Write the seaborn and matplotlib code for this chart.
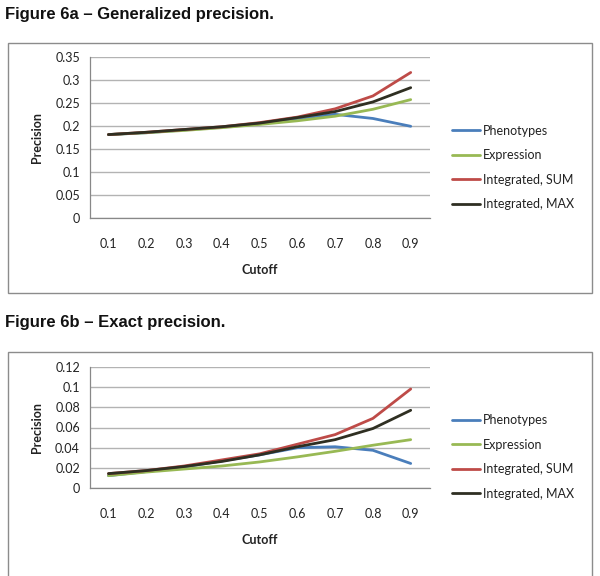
import numpy as np
import pandas as pd
import matplotlib
matplotlib.use("Agg")
import matplotlib.pyplot as plt
import seaborn as sns
from matplotlib.patches import Rectangle
from matplotlib.ticker import FixedLocator, NullFormatter

sns.set_style("white")
plt.rcParams['font.family'] = ['Lato', 'DejaVu Sans']

cutoffs = [0.1, 0.2, 0.3, 0.4, 0.5, 0.6, 0.7, 0.8, 0.9]
cutoff_labels = ["0.1", "0.2", "0.3", "0.4", "0.5", "0.6", "0.7", "0.8", "0.9"]
series_names = ["Phenotypes", "Expression", "Integrated, SUM", "Integrated, MAX"]

# Figure 6a - Generalized precision
gen_phenotypes = [0.182, 0.186, 0.192, 0.198, 0.206, 0.217, 0.226, 0.217, 0.200]
gen_expression = [0.182, 0.186, 0.191, 0.197, 0.204, 0.212, 0.222, 0.237, 0.258]
gen_sum = [0.182, 0.187, 0.193, 0.199, 0.208, 0.220, 0.238, 0.266, 0.317]
gen_max = [0.182, 0.187, 0.193, 0.199, 0.207, 0.219, 0.232, 0.253, 0.284]

# Figure 6b - Exact precision
ex_phenotypes = [0.0125, 0.0165, 0.021, 0.027, 0.033, 0.040, 0.041, 0.0375, 0.0245]
ex_expression = [0.0125, 0.016, 0.019, 0.022, 0.026, 0.031, 0.0365, 0.0425, 0.048]
ex_sum = [0.0145, 0.0175, 0.022, 0.028, 0.034, 0.0435, 0.053, 0.069, 0.098]
ex_max = [0.0145, 0.0175, 0.0215, 0.0265, 0.033, 0.041, 0.048, 0.059, 0.077]

colors = ["#4A7EBB", "#98B954", "#BE4B48", "#2F2F22"]
palette = dict(zip(series_names, colors))


def long_df(vals):
    rows = []
    for name, v in zip(series_names, vals):
        for c, y in zip(cutoffs, v):
            rows.append({"Cutoff": c, "Precision": y, "Series": name})
    return pd.DataFrame(rows)


fig = plt.figure(figsize=(6.0, 5.76), dpi=100)
W, H = 600.0, 576.0

# chart boxes
fig.patches.append(Rectangle((8 / W, 1 - 293 / H), 584 / W, 250 / H, transform=fig.transFigure,
                             fill=False, edgecolor="#8c8c8c", linewidth=1.0))
fig.patches.append(Rectangle((8 / W, 1 - 600 / H), 584 / W, 248 / H, transform=fig.transFigure,
                             fill=False, edgecolor="#8c8c8c", linewidth=1.0))

fig.text(5 / W, 1 - 14 / H, "Figure 6a \u2013 Generalized precision.", fontsize=12,
         fontweight="bold", family=["Liberation Sans", "DejaVu Sans"], va="center", ha="left",
         color="#111111")
fig.text(5 / W, 1 - 322 / H, "Figure 6b \u2013 Exact precision.", fontsize=12,
         fontweight="bold", family=["Liberation Sans", "DejaVu Sans"], va="center", ha="left",
         color="#111111")


def draw(ax, vals, ymax, ystep, yfmt, leg_y):
    df = long_df(vals)
    sns.lineplot(data=df, x="Cutoff", y="Precision", hue="Series", palette=palette,
                 hue_order=series_names, linewidth=2.0, ax=ax, legend=True)
    ax.set_xlim(0.05, 0.95)
    ax.set_ylim(0, ymax)
    yt = np.round(np.arange(0, ymax + ystep / 2, ystep), 4)
    ax.set_yticks(yt)
    ax.set_yticklabels([yfmt(v) for v in yt])
    ax.set_xticks(cutoffs)
    ax.set_xticklabels(cutoff_labels)
    ax.xaxis.set_minor_locator(FixedLocator(np.round(np.arange(0.05, 0.96, 0.1), 3)))
    ax.xaxis.set_minor_formatter(NullFormatter())
    ax.tick_params(axis="x", which="major", length=0, pad=14, labelsize=9, colors="#222222")
    ax.tick_params(axis="x", which="minor", length=4, width=0.8, color="#888888", direction="out")
    ax.tick_params(axis="y", which="major", length=4, width=0.8, color="#888888", direction="out",
                   labelsize=9, labelcolor="#222222", pad=3)
    ax.grid(axis="y", color="#b3b3b3", linewidth=1.0)
    ax.set_axisbelow(True)
    for s in ["top", "right"]:
        ax.spines[s].set_visible(False)
    for s in ["left", "bottom"]:
        ax.spines[s].set_color("#888888")
        ax.spines[s].set_linewidth(0.9)
    ax.set_xlabel("Cutoff", fontsize=9, fontweight="bold", color="#222222", labelpad=10)
    ax.set_ylabel("Precision", fontsize=9, fontweight="bold", color="#222222", labelpad=9)
    leg = ax.legend(loc="center left", bbox_to_anchor=(1.066, leg_y), frameon=False,
                    fontsize=9, handlelength=2.2, handletextpad=0.25, labelspacing=1.0,
                    borderaxespad=0, borderpad=0)
    for t in leg.get_texts():
        t.set_color("#222222")
    for l in leg.get_lines():
        l.set_linewidth(2.0)


def fmt(v):
    s = ("%.2f" % v).rstrip("0").rstrip(".")
    return s if s else "0"


ax1 = fig.add_axes([89.6 / W, 1 - 218.3 / H, 340 / W, 161 / H])
draw(ax1, [gen_phenotypes, gen_expression, gen_sum, gen_max], 0.35, 0.05, fmt, 0.3155)

ax2 = fig.add_axes([89.6 / W, 1 - 488.3 / H, 340 / W, 121.6 / H])
draw(ax2, [ex_phenotypes, ex_expression, ex_sum, ex_max], 0.12, 0.02, fmt, 0.257)

fig.savefig("out.png", dpi=100)
